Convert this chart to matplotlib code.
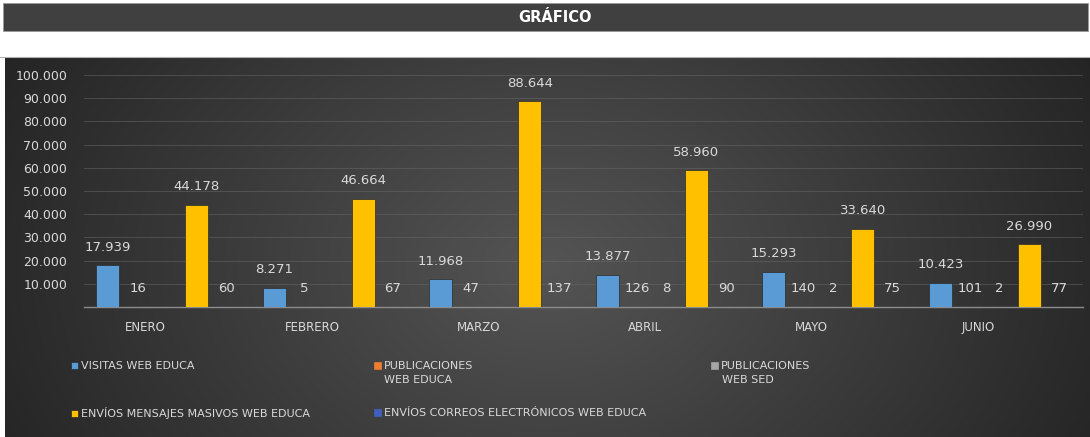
import numpy as np
import matplotlib
matplotlib.use('Agg')
from matplotlib import pyplot as plt
from matplotlib.patches import Rectangle
from matplotlib.lines import Line2D
from matplotlib.ticker import FuncFormatter

# datos
meses = ['ENERO', 'FEBRERO', 'MARZO', 'ABRIL', 'MAYO', 'JUNIO']
visitas_web_educa = [17939, 8271, 11968, 13877, 15293, 10423]
publicaciones_web_educa = [16, 5, 47, 126, 140, 101]
publicaciones_web_sed = [None, None, None, 8, 2, 2]
envios_mensajes = [44178, 46664, 88644, 58960, 33640, 26990]
envios_correos = [60, 67, 137, 90, 75, 77]

series = [
    ('VISITAS WEB EDUCA', visitas_web_educa, '#5B9BD5'),
    ('PUBLICACIONES\nWEB EDUCA', publicaciones_web_educa, '#ED7D31'),
    ('PUBLICACIONES\nWEB SED', publicaciones_web_sed, '#A5A5A5'),
    ('ENVÍOS MENSAJES MASIVOS WEB EDUCA', envios_mensajes, '#FFC000'),
    ('ENVÍOS CORREOS ELECTRÓNICOS WEB EDUCA', envios_correos, '#3F5FBF'),
]

W, H = 1090, 437
txt = '#D9D9D9'

fig = plt.figure(figsize=(W / 100, H / 100), dpi=100, facecolor='white')

# barra del titulo
fig.patches.append(Rectangle((3 / W, 1 - 31 / H), 1085 / W, 28 / H, transform=fig.transFigure,
                             facecolor='#404040', edgecolor='#9a9a9a', lw=0.6))
fig.text(555 / W, 1 - 17 / H, 'GRÁFICO', color='white', fontsize=10.5, fontweight='bold',
         ha='center', va='center')

# fondo del panel con degradado
bg = fig.add_axes([5 / W, 0, 1085 / W, (H - 58) / H])
gx, gy = np.meshgrid(np.linspace(0, 1, 300), np.linspace(0, 1, 150))
t = np.sqrt(((gx - 0.5) / 0.62) ** 2 + ((gy - 0.45) / 1.3) ** 2)
t = np.clip(t, 0, 1)
c0, c1 = 0x54 / 255, 0x20 / 255
grad = c0 * (1 - t) + c1 * t
bg.imshow(np.dstack([grad, grad, grad]), aspect='auto', extent=[0, 1, 0, 1], origin='lower')
bg.axis('off')
fig.add_artist(Line2D([0, 1], [1 - 57 / H, 1 - 57 / H], transform=fig.transFigure,
                      color='#b0b0b0', lw=0.8))

ax = fig.add_axes([84 / W, 1 - 307 / H, (1083 - 84) / W, (307 - 75) / H])
ax.set_facecolor('none')

x = np.arange(len(meses))
slot = 0.178
bw = 0.138
bars = []
for i, (name, vals, col) in enumerate(series):
    v = np.array([np.nan if a is None else a for a in vals], dtype=float)
    b = ax.bar(x + (i - 2) * slot, np.nan_to_num(v), width=bw, color=col, zorder=3,
               edgecolor='#2a2a2a' if i in (0, 3) else col, linewidth=0.5)
    bars.append(b)
    for xi, val in zip(x + (i - 2) * slot, v):
        if np.isnan(val):
            continue
        ax.annotate(f'{int(val):,}'.replace(',', '.'), (xi, val), xytext=(0, 13),
                    textcoords='offset points', ha='center', va='center',
                    color=txt, fontsize=9.5, zorder=4)

ax.set_xlim(-0.5, len(meses) - 0.5)
ax.set_ylim(0, 100000)
ax.set_yticks(np.arange(10000, 100001, 10000))
ax.yaxis.set_major_formatter(FuncFormatter(lambda v, p: f'{int(v):,}'.replace(',', '.')))
ax.set_xticks(x - 0.13)
ax.set_xticklabels(meses)
ax.tick_params(axis='y', length=0, pad=12, labelsize=9, labelcolor=txt)
ax.tick_params(axis='x', length=0, pad=10, labelsize=8.5, labelcolor=txt)
ax.grid(axis='y', color='#6a6a6a', lw=0.7, alpha=0.5, zorder=0)
for s in ['top', 'left', 'right']:
    ax.spines[s].set_visible(False)
ax.spines['bottom'].set_color('#8c8c8c')
ax.spines['bottom'].set_linewidth(1)

# leyenda, una entrada por posicion; la segunda linea va debajo como texto
pos = [(71, 366), (374, 366), (711, 366), (71, 413), (374, 413)]
for (name, vals, col), b, (px, py) in zip(series, bars, pos):
    lines = name.split('\n')
    leg = fig.legend(handles=[b], labels=[lines[0]], loc='center left',
                     bbox_to_anchor=(px / W, 1 - py / H), frameon=False, fontsize=8,
                     labelcolor=txt, handlelength=0.6, handleheight=0.6,
                     handletextpad=0.3, borderpad=0, borderaxespad=0)
    if len(lines) > 1:
        fig.text((px + 10.5) / W, 1 - (py + 14) / H, lines[1], color=txt, fontsize=8,
                 ha='left', va='center')

plt.savefig('out.png', dpi=100)
